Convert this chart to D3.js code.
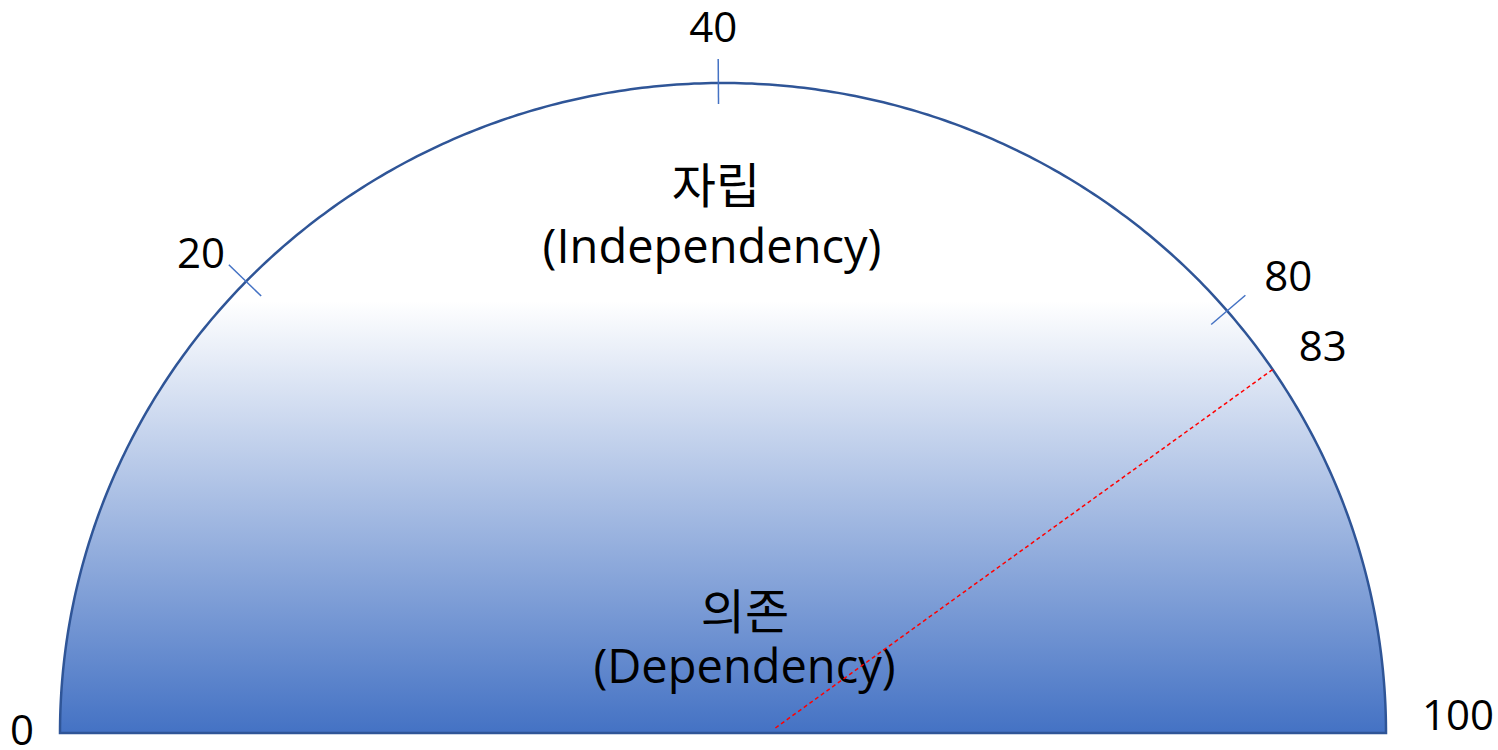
<!DOCTYPE html>
<html>
<head>
<meta charset="utf-8">
<script src="https://cdn.jsdelivr.net/npm/d3@7/dist/d3.min.js"></script>
<style>
  html, body { margin: 0; padding: 0; background: #ffffff; }
  svg { display: block; }
</style>
</head>
<body>
<svg id="chart" width="1498" height="750"></svg>
<script>
// ---------- data ----------
const tickValues = [0, 20, 40, 80, 100];
const tickLabels = ["0", "20", "40", "80", "100"];
const markerValue = 83;
const markerLabel = "83";
const koreanLabels = ["자립", "의존"];
const englishLabels = ["(Independency)", "(Dependency)"];

// ---------- layout ----------
const W = 1498, H = 750;
const cx = 723, cy = 733, rx = 663, ry = 650;
// gauge is not linear: value -> angle (degrees from left end, clockwise over top)
const angle = d3.scaleLinear()
  .domain([0, 20, 40, 80, 83, 100])
  .range([0, 44, 89.6, 139.5, 146, 180]);
// label offsets (px) from the point on the arc: [dx, dy] to text centre/baseline
const labelOffset = {
  0: [-38, 12], 20: [-45, -13], 40: [-5, -41],
  80: [61, -20], 83: [50, -9], 100: [72, -3]
};
const needlePivot = [cx + 51, cy - 4];

function onEllipse(deg, k = 1) {
  const a = deg * Math.PI / 180;
  return [cx - rx * k * Math.cos(a), cy - ry * k * Math.sin(a)];
}

const svg = d3.select("#chart");
const defs = svg.append("defs");
const grad = defs.append("linearGradient")
  .attr("id", "fillGrad")
  .attr("gradientUnits", "userSpaceOnUse")
  .attr("x1", 0).attr("x2", 0)
  .attr("y1", cy - ry).attr("y2", cy);
grad.append("stop").attr("offset", 0).attr("stop-color", "#ffffff");
grad.append("stop").attr("offset", 0.335).attr("stop-color", "#ffffff");
grad.append("stop").attr("offset", 1).attr("stop-color", "#4472C4");

// semicircle body
const outline = d3.range(0, 180.001, 0.5).map(d => onEllipse(d));
svg.append("path")
  .attr("d", d3.line().curve(d3.curveLinearClosed)(outline))
  .attr("fill", "url(#fillGrad)")
  .attr("stroke", "#2F5597")
  .attr("stroke-width", 2.5)
  .attr("stroke-linejoin", "miter");

// tick marks (skip end points 0 and 100)
const inner = tickValues.filter(v => v > 0 && v < 100);
function tickEnd(d, len) {
  const a = angle(d) * Math.PI / 180;
  const p = onEllipse(angle(d));
  return [p[0] + len * Math.cos(a), p[1] + len * Math.sin(a)];
}
svg.selectAll("line.tick")
  .data(inner)
  .enter().append("line")
  .attr("class", "tick")
  .attr("x1", d => tickEnd(d, -24)[0])
  .attr("y1", d => tickEnd(d, -24)[1])
  .attr("x2", d => tickEnd(d, 21)[0])
  .attr("y2", d => tickEnd(d, 21)[1])
  .attr("stroke", "#4472C4")
  .attr("stroke-width", 1.5);

// tick labels
const numFont = "'Open Sans', 'Noto Sans', sans-serif";
const allLabels = tickValues.map((v, i) => ({ v, t: tickLabels[i] }))
  .concat([{ v: markerValue, t: markerLabel }]);
svg.selectAll("text.tl")
  .data(allLabels)
  .enter().append("text")
  .attr("class", "tl")
  .attr("x", d => onEllipse(angle(d.v))[0] + labelOffset[d.v][0])
  .attr("y", d => onEllipse(angle(d.v))[1] + labelOffset[d.v][1])
  .attr("text-anchor", "middle")
  .attr("font-family", numFont)
  .attr("font-size", 42)
  .attr("fill", "#000")
  .text(d => d.t);

// center titles
const koFont = "'Noto Sans CJK KR', sans-serif";
const titleRows = [
  { ko: koreanLabels[0], en: englishLabels[0], x: 716, ky: 203, ex: 712, ey: 263 },
  { ko: koreanLabels[1], en: englishLabels[1], x: 745, ky: 629, ex: 744.5, ey: 683 }
];
titleRows.forEach(r => {
  svg.append("text")
    .attr("x", r.x).attr("y", r.ky)
    .attr("text-anchor", "middle")
    .attr("font-family", koFont)
    .attr("font-size", 48)
    .attr("fill", "#000")
    .text(r.ko);
  svg.append("text")
    .attr("x", r.ex).attr("y", r.ey)
    .attr("text-anchor", "middle")
    .attr("font-family", numFont)
    .attr("font-size", 47)
    .attr("fill", "#000")
    .text(r.en);
});

// needle (dashed red)
const mp = onEllipse(angle(markerValue));
svg.append("line")
  .attr("x1", mp[0]).attr("y1", mp[1])
  .attr("x2", needlePivot[0]).attr("y2", needlePivot[1])
  .attr("stroke", "#FF0000")
  .attr("stroke-width", 1.5)
  .attr("stroke-dasharray", "4,3");
</script>
</body>
</html>
